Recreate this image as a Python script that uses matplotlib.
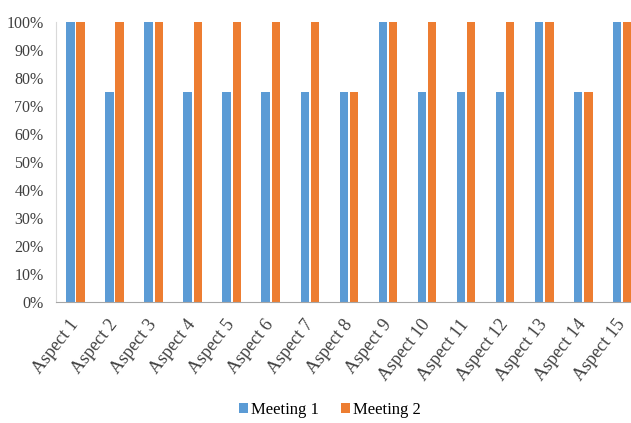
import numpy as np
from matplotlib import pyplot as plt
from matplotlib.ticker import PercentFormatter

aspects = ["Aspect {}".format(i) for i in range(1, 16)]
meeting1 = [100, 75, 100, 75, 75, 75, 75, 75, 100, 75, 75, 75, 100, 75, 100]
meeting2 = [100, 100, 100, 100, 100, 100, 100, 75, 100, 100, 100, 100, 100, 75, 100]

plt.rcParams['font.family'] = ['Liberation Serif', 'DejaVu Serif']

fig = plt.figure(figsize=(6.31, 4.23), dpi=100)
ax = fig.add_axes([0.089, 0.286, 0.928, 0.662])

x = np.arange(len(aspects))
w = 0.22
ax.bar(x - 0.13, meeting1, w, color="#5B9BD5", label="Meeting 1")
ax.bar(x + 0.13, meeting2, w, color="#ED7D31", label="Meeting 2")

ax.set_xlim(-0.5, len(aspects) - 0.5)
ax.set_ylim(0, 100)
ax.set_yticks(np.arange(0, 101, 10))
ax.yaxis.set_major_formatter(PercentFormatter(decimals=0))
ax.set_xticks(x)
ax.set_xticklabels(aspects, rotation=52, ha="right", va="center",
                   rotation_mode="anchor")
ax.tick_params(axis="both", length=0, colors="#404040")
ax.tick_params(axis="x", pad=14, labelsize=13)
ax.tick_params(axis="y", pad=9, labelsize=11.5)

for s in ["top", "right"]:
    ax.spines[s].set_visible(False)
ax.spines["left"].set_color("#d9d9d9")
ax.spines["bottom"].set_color("#a6a6a6")

fig.legend(loc="center", bbox_to_anchor=(0.523, 0.03), ncol=2, frameon=False,
           fontsize=12, handlelength=0.55, handleheight=0.55, handletextpad=0.2,
           columnspacing=1.3)

fig.savefig("out.png")
